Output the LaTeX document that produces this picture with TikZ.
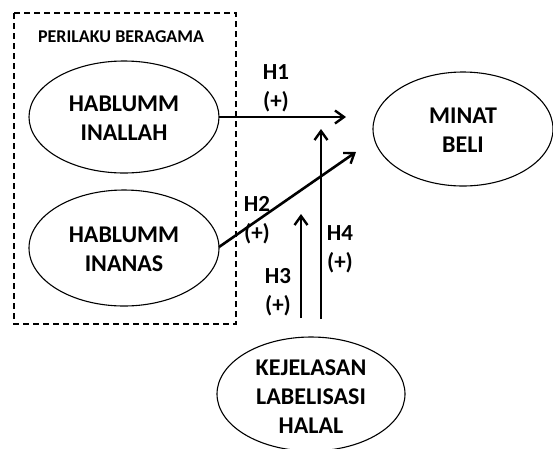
\documentclass[tikz,border=0pt]{standalone}
\usepackage{fontspec}
\setmainfont{Carlito}
\usetikzlibrary{arrows.meta}
\tikzset{
  vartext/.style={font=\bfseries\fontsize{24}{29}\selectfont, align=center},
  path/.style={line width=2.6pt, -{Straight Barb[length=9pt,width=13pt,line width=2.4pt]}},
  hyp/.style={font=\bfseries\fontsize{23}{29}\selectfont, align=center},
}
\begin{document}
\begin{tikzpicture}[x=1pt,y=-1pt]
  \useasboundingbox (0,0) rectangle (553,448);
  % group frame
  \draw[line width=1.1pt, dash pattern=on 6pt off 4pt] (14,13) rectangle (236,324);
  \node[font=\bfseries\fontsize{18}{20}\selectfont] (grp) at (121,37) {PERILAKU BERAGAMA};
  % latent variables
  \draw[line width=1.1pt] (124,117) ellipse [x radius=95, y radius=56];
  \node[vartext] (x1) at (124,118) {HABLUMM\\INALLAH};
  \coordinate (x1e) at (219,117);
  \draw[line width=1.1pt] (124,248) ellipse [x radius=95, y radius=58];
  \node[vartext] (x2) at (124,249) {HABLUMM\\INANAS};
  \coordinate (x2e) at (219,247);
  \draw[line width=1.1pt] (463,129) ellipse [x radius=90, y radius=57];
  \node[vartext] (y) at (463,130) {MINAT\\BELI};
  \draw[line width=1.1pt] (311,394) ellipse [x radius=94, y radius=57];
  \node[vartext] (z) at (311,397) {KEJELASAN\\LABELISASI\\HALAL};
  % hypothesised paths
  \coordinate (h1t) at (346,117);
  \coordinate (h2t) at (356,152);
  \coordinate (h3b) at (301,318);
  \coordinate (h3t) at (301,214);
  \coordinate (h4b) at (321,319);
  \coordinate (h4t) at (321,129);
  \draw[path] (x1e) -- (h1t);
  \draw[path] (x2e) -- (h2t);
  \draw[path] (h3b) -- (h3t);
  \draw[path] (h4b) -- (h4t);
  % path labels
  \node[hyp] (l1) at (276,88) {H1\\(+)};
  \node[hyp] (l2) at (257,220) {H2\\(+)};
  \node[hyp] (l3) at (278,292) {H3\\(+)};
  \node[hyp] (l4) at (340,249) {H4\\(+)};
\end{tikzpicture}
\end{document}
